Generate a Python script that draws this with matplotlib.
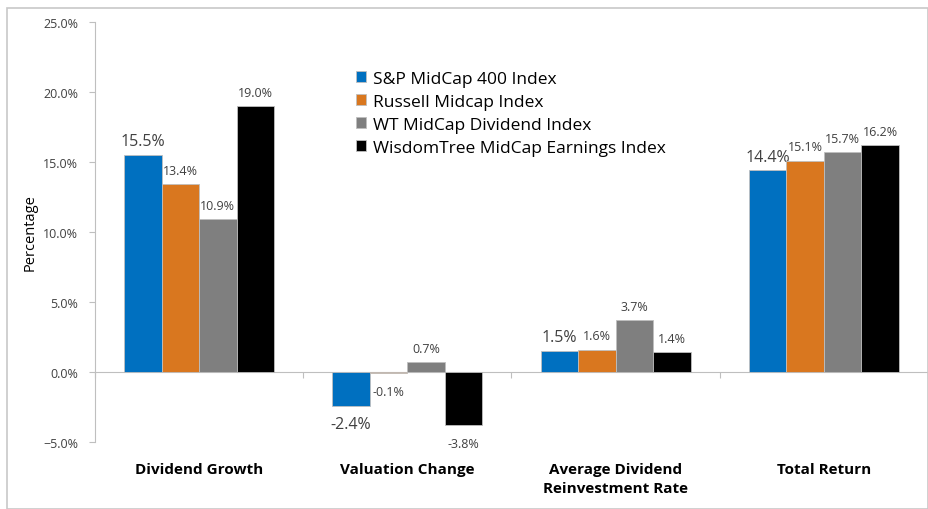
import numpy as np
import matplotlib.pyplot as plt
from matplotlib.patches import Rectangle
from matplotlib.ticker import PercentFormatter

categories = ['Dividend Growth', 'Valuation Change',
              'Average Dividend\nReinvestment Rate', 'Total Return']
series = ['S&P MidCap 400 Index', 'Russell Midcap Index',
          'WT MidCap Dividend Index', 'WisdomTree MidCap Earnings Index']
sp400 = [15.5, -2.4, 1.5, 14.4]
russell = [13.4, -0.1, 1.6, 15.1]
wt_div = [10.9, 0.7, 3.7, 15.7]
wt_earn = [19.0, -3.8, 1.4, 16.2]
values = [sp400, russell, wt_div, wt_earn]
colors = ['#0070C0', '#D9771F', '#7F7F7F', '#000000']
label_sizes = [11.5, 9, 9, 9]

plt.rcParams['font.family'] = ['Open Sans', 'DejaVu Sans']

fig = plt.figure(figsize=(9.29, 5.10), dpi=100)
ax = fig.add_axes([95 / 929, 67 / 510, 833 / 929, 420 / 510])

fig.patches.append(Rectangle((7 / 929, 0.0), 921 / 929, 1 - 9 / 510,
                             transform=fig.transFigure, fill=False,
                             edgecolor='#C8C8C8', linewidth=1.2))

x = np.arange(len(categories))
w = 0.18
for i, vals in enumerate(values):
    pos = x + (i - 1.5) * w
    bars = ax.bar(pos, vals, w, color=colors[i], edgecolor='#BFBFBF',
                  linewidth=0.6, label=series[i], zorder=3)
    for b, v in zip(bars, vals):
        off = 10 if v >= 0 else -13
        ax.annotate(f'{v:.1f}%', (b.get_x() + b.get_width() / 2, v),
                    xytext=(0, off), textcoords='offset points',
                    ha='center', va='center', fontsize=label_sizes[i],
                    color='#404040')

ax.set_xlim(-0.5, 3.5)
ax.set_ylim(-5, 25)
ax.set_yticks(np.arange(-5, 26, 5))
ax.yaxis.set_major_formatter(PercentFormatter(decimals=1))
ax.tick_params(axis='y', labelsize=9, colors='#BFBFBF', labelcolor='#404040',
               length=4, pad=8)

ax.spines['top'].set_visible(False)
ax.spines['right'].set_visible(False)
ax.spines['left'].set_color('#BFBFBF')
ax.spines['bottom'].set_position(('data', 0))
ax.spines['bottom'].set_color('#BFBFBF')

ax.set_xticks(np.arange(-0.5, 3.6, 1))
ax.set_xticklabels([])
ax.tick_params(axis='x', colors='#BFBFBF', length=4)
for xi, cat in zip(x, categories):
    ax.text(xi, -0.047, cat, transform=ax.get_xaxis_transform(),
            ha='center', va='top', fontsize=11, fontweight='bold',
            color='#000000', linespacing=1.5)

ax.set_ylabel('Percentage', fontsize=10.5, color='#000000', labelpad=4)

ax.legend(loc='upper left', bbox_to_anchor=(0.305, 0.9), frameon=False,
          fontsize=12.5, handlelength=0.6, handleheight=0.6,
          handletextpad=0.4, labelspacing=0.4, borderaxespad=0)

fig.savefig('out.png', dpi=100)
